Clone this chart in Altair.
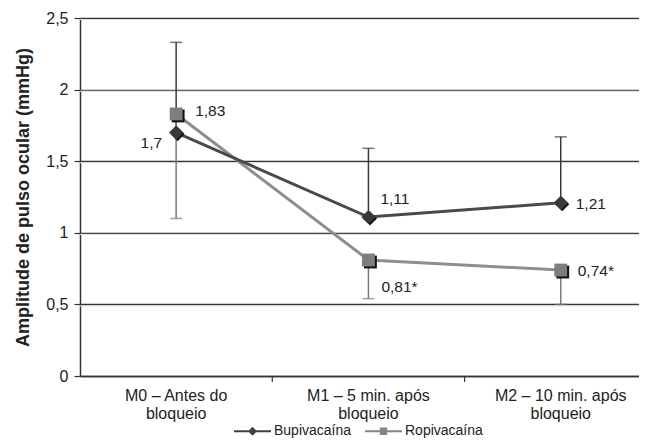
import altair as alt
import pandas as pd

# ---------------- data ----------------
categories = ["M0 – Antes do\nbloqueio", "M1 – 5 min. após\nbloqueio", "M2 – 10 min. após\nbloqueio"]
series = ["Bupivacaína", "Ropivacaína"]
bup_values = [1.70, 1.11, 1.21]
rop_values = [1.83, 0.81, 0.74]
bup_upper = [2.33, 1.59, 1.67]
rop_lower = [1.10, 0.54, 0.50]
bup_labels = ["1,7", "1,11", "1,21"]
rop_labels = ["1,83", "0,81*", "0,74*"]
y_ticks = [0, 0.5, 1, 1.5, 2, 2.5]
x_boundaries = [1, 2]

df = pd.DataFrame({
    "idx": [i + 0.5 for i in range(len(categories))],
    "category": categories,
    "bup": bup_values,
    "rop": rop_values,
    "bup_hi": bup_upper,
    "rop_lo": rop_lower,
    "bup_label": bup_labels,
    "rop_label": rop_labels,
})
grid_df = pd.DataFrame({"v": y_ticks[1:]})
bound_df = pd.DataFrame({"b": x_boundaries})
legend_df = pd.DataFrame({"series": series})

# ---------------- layout / style ----------------
W, H = 559, 358
FONT = "Liberation Sans"
TXT = "#222222"
BUP_LINE, BUP_PT = "#4a4a4a", "#383838"
ROP_LINE, ROP_PT = "#8e8e8e", "#7e7e7e"

xscale = alt.Scale(domain=[0, 2.907], nice=False, zero=False)
yscale = alt.Scale(domain=[0, 2.5], nice=False, zero=True)
xaxis = alt.Axis(title=None, labels=False, ticks=False, grid=False,
                 domainColor="#333333", domainWidth=1.5)
yaxis = alt.Axis(values=y_ticks, title="Amplitude de pulso ocular (mmHg)",
                 labelExpr="replace(format(datum.value, '.1~f'), '.', ',')",
                 titleFont=FONT, titleFontSize=18, titleFontWeight="bold", titleColor=TXT,
                 titlePadding=13, labelFont=FONT, labelFontSize=16, labelColor=TXT,
                 labelPadding=6, tickSize=6, tickColor="#333333", tickWidth=1.2,
                 grid=True, gridColor="#333333", gridWidth=1.5,
                 domainColor="#333333", domainWidth=1.5)


def xe(f):
    return alt.X(f"{f}:Q", scale=xscale, axis=xaxis)


def ye(f):
    return alt.Y(f"{f}:Q", scale=yscale, axis=yaxis)


base = alt.Chart(df)

grid_hi = alt.Chart(grid_df).mark_rule(color="#e4e4e4", strokeWidth=1, yOffset=1.6).encode(y=ye("v"))

bound_ticks = alt.Chart(bound_df).mark_rule(color="#333333", strokeWidth=1.2).encode(
    x=xe("b"), y=alt.value(H), y2=alt.value(H + 6))

cat_text = base.mark_text(font=FONT, fontSize=16, color=TXT, baseline="top",
                          lineBreak="\n", lineHeight=18, align="center").encode(
    x=xe("idx"), y=alt.value(H + 12), text="category:N")

bup_err = base.mark_rule(color="#3a3a3a", strokeWidth=1.5).encode(x=xe("idx"), y=ye("bup"), y2="bup_hi:Q")
bup_cap = base.mark_tick(orient="horizontal", size=12, thickness=1.5, color="#3a3a3a").encode(
    x=xe("idx"), y=ye("bup_hi"))
rop_err = base.mark_rule(color="#7a7a7a", strokeWidth=1.5).encode(x=xe("idx"), y=ye("rop"), y2="rop_lo:Q")
rop_cap = base.mark_tick(orient="horizontal", size=12, thickness=1.5, color="#7a7a7a").encode(
    x=xe("idx"), y=ye("rop_lo"))

rop_line = base.mark_line(color=ROP_LINE, strokeWidth=3).encode(x=xe("idx"), y=ye("rop"))
bup_line = base.mark_line(color=BUP_LINE, strokeWidth=3).encode(x=xe("idx"), y=ye("bup"))

rop_shadow = base.mark_point(shape="square", filled=True, opacity=1, color="#111111", size=165,
                             xOffset=2, yOffset=2).encode(x=xe("idx"), y=ye("rop"))
rop_pt = base.mark_point(shape="square", filled=True, opacity=1, color=ROP_PT, size=165).encode(
    x=xe("idx"), y=ye("rop"))
bup_shadow = base.mark_point(shape="diamond", filled=True, opacity=1, color="#151515", size=200,
                             xOffset=1.5, yOffset=1.5).encode(x=xe("idx"), y=ye("bup"))
bup_pt = base.mark_point(shape="diamond", filled=True, opacity=1, color=BUP_PT, size=200).encode(
    x=xe("idx"), y=ye("bup"))

label_specs = [
    ("bup", "bup_label", 0, dict(align="right", dx=-14, dy=10)),
    ("bup", "bup_label", 1, dict(align="left", dx=12, dy=-18)),
    ("bup", "bup_label", 2, dict(align="left", dx=15, dy=1)),
    ("rop", "rop_label", 0, dict(align="left", dx=19, dy=-3)),
    ("rop", "rop_label", 1, dict(align="left", dx=13, dy=27)),
    ("rop", "rop_label", 2, dict(align="left", dx=17, dy=1)),
]
label_layers = []
for val, lab, i, st in label_specs:
    label_layers.append(
        base.transform_filter(f"datum.idx == {i + 0.5}")
        .mark_text(font=FONT, fontSize=15.5, color=TXT, baseline="middle", **st)
        .encode(x=xe("idx"), y=ye(val), text=f"{lab}:N")
    )

bup_path = "M-1,-0.055H1V0.055H-1Z M0,-0.24L0.24,0L0,0.24L-0.24,0Z"
rop_path = "M-1,-0.055H1V0.055H-1Z M-0.2,-0.2H0.2V0.2H-0.2Z"
leg = alt.Legend(title=None, orient="none", legendX=154, legendY=394.5, direction="horizontal",
                 symbolSize=1369, symbolStrokeWidth=0, labelOffset=3, columnPadding=13,
                 labelFont=FONT, labelFontSize=14, labelColor=TXT)
legend_layer = alt.Chart(legend_df).transform_filter("false").mark_point(filled=True, opacity=1).encode(
    color=alt.Color("series:N", scale=alt.Scale(domain=series, range=["#404040", "#858585"]), legend=leg),
    shape=alt.Shape("series:N", scale=alt.Scale(domain=series, range=[bup_path, rop_path]), legend=leg),
)

chart = alt.layer(
    grid_hi, bound_ticks, cat_text,
    bup_err, bup_cap, rop_err, rop_cap,
    rop_line, bup_line,
    rop_shadow, rop_pt, bup_shadow, bup_pt,
    *label_layers, legend_layer,
).properties(
    width=W, height=H,
    autosize=alt.AutoSizeParams(type="none"),
    padding={"left": 72, "top": 10, "right": 0, "bottom": 64},
).configure(font=FONT, background="white").configure_view(fill="#c9c9c9", stroke=None)

chart.save("out.html", embed_options={"renderer": "svg", "actions": False})
